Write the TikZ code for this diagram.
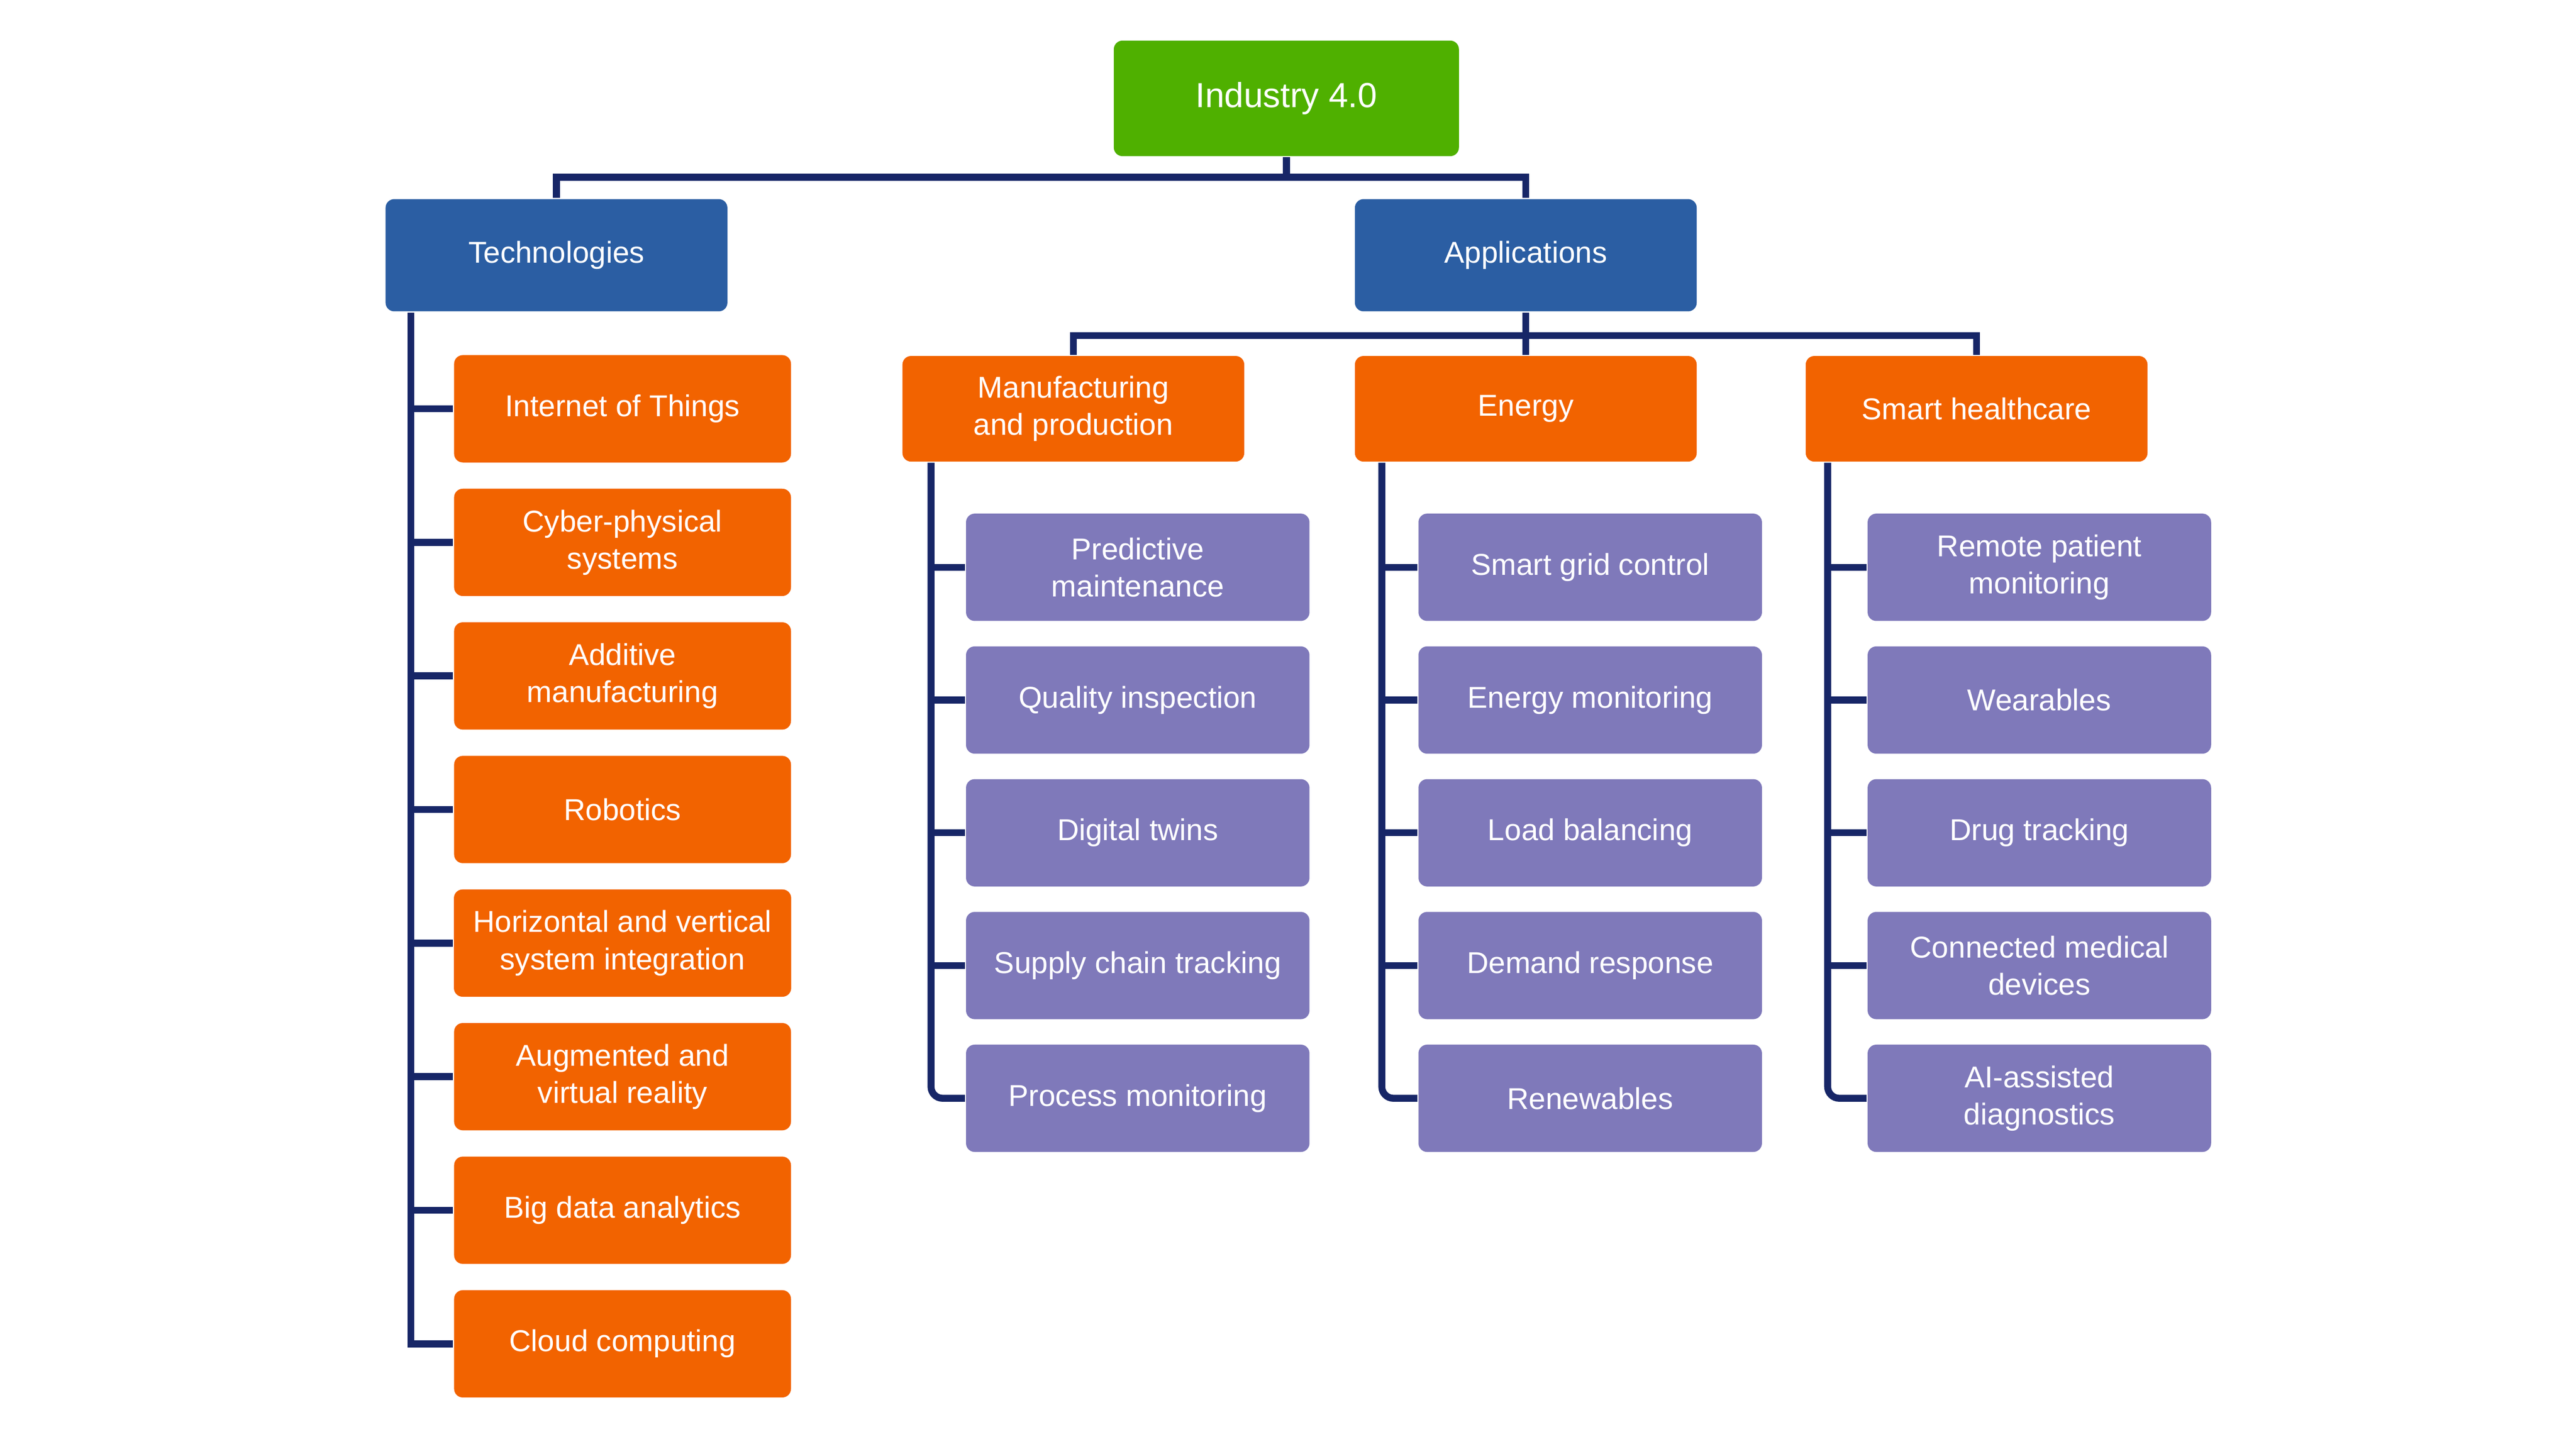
\documentclass[tikz,border=0pt]{standalone}
\usepackage{fontspec}
\setmainfont{Liberation Sans}
\usepackage{tikz}
\usetikzlibrary{positioning}
\usepackage{xcolor}
\definecolor{imgreen}{RGB}{79,176,0}
\definecolor{imblue}{RGB}{43,94,163}
\definecolor{imorange}{RGB}{242,99,0}
\definecolor{impurple}{RGB}{127,121,186}
\definecolor{imnavy}{RGB}{23,38,103}
\tikzstyle{link} = [line width=1.2pt, color=imnavy]
\tikzstyle{rootbox} = [rectangle, rounded corners=1.5pt, minimum width=2.09cm, minimum height=0.70cm, text centered, align=center, fill=imgreen, text=white, font=\fontsize{6}{7.2}\selectfont]
\tikzstyle{branch} = [rectangle, rounded corners=1.5pt, minimum width=2.07cm, minimum height=0.68cm, text centered, align=center, fill=imblue, text=white, font=\fontsize{5.2}{6.4}\selectfont]
\tikzstyle{techitem} = [rectangle, rounded corners=1.5pt, minimum width=2.04cm, minimum height=0.65cm, text centered, align=center, fill=imorange, text=white, font=\fontsize{5.2}{6.4}\selectfont]
\tikzstyle{field} = [techitem, minimum width=2.07cm, minimum height=0.64cm]
\tikzstyle{usecase} = [techitem, minimum width=2.08cm, fill=impurple]

\begin{document}
\begin{tikzpicture}
\useasboundingbox (0,0) rectangle (15.6,8.776);
% Root and the two main branches
\node[rootbox] (root) at (7.79,8.18) {Industry 4.0};
\node[branch] (tech) at (3.37,7.23) {Technologies};
\node[branch] (appl) at (9.24,7.23) {Applications};
\draw[link] (root.south) -- ++(0,-0.12) -| (tech.north);
\draw[link] (root.south) -- ++(0,-0.12) -| (appl.north);

% Technologies
\node[techitem] (iot) at (3.77,6.30) {Internet of Things};
\node[techitem, below=0.145cm of iot] (cps) {Cyber-physical\\systems};
\node[techitem, below=0.145cm of cps] (additive) {Additive\\manufacturing};
\node[techitem, below=0.145cm of additive] (robots) {Robotics};
\node[techitem, below=0.145cm of robots] (integration) {Horizontal and vertical\\system integration};
\node[techitem, below=0.145cm of integration] (arvr) {Augmented and\\virtual reality};
\node[techitem, below=0.145cm of arvr] (bigdata) {Big data analytics};
\node[techitem, below=0.145cm of bigdata] (cloud) {Cloud computing};

\coordinate (techtrunk) at ([xshift=0.16cm]tech.south west);
\draw[link] (techtrunk) |- (cloud.west);
\draw[link] (techtrunk |- iot.west) -- (iot.west)
  (techtrunk |- cps.west) -- (cps.west)
  (techtrunk |- additive.west) -- (additive.west)
  (techtrunk |- robots.west) -- (robots.west)
  (techtrunk |- integration.west) -- (integration.west)
  (techtrunk |- arvr.west) -- (arvr.west)
  (techtrunk |- bigdata.west) -- (bigdata.west);

% Application fields
\node[field] (manuf) at (6.50,6.30) {Manufacturing\\and production};
\node[field] (energy) at (9.24,6.30) {Energy};
\node[field] (health) at (11.97,6.30) {Smart healthcare};
\draw[link] (appl.south) -- ++(0,-0.14) -| (manuf.north);
\draw[link] (appl.south) -- ++(0,-0.14) -| (energy.north);
\draw[link] (appl.south) -- ++(0,-0.14) -| (health.north);

% Manufacturing use cases
\node[usecase] (predictive) at (6.89,5.34) {Predictive\\maintenance};
\node[usecase, below=0.14cm of predictive] (quality) {Quality inspection};
\node[usecase, below=0.14cm of quality] (twins) {Digital twins};
\node[usecase, below=0.14cm of twins] (supply) {Supply chain tracking};
\node[usecase, below=0.14cm of supply] (process) {Process monitoring};

\coordinate (mtrunk) at ([xshift=0.18cm]manuf.south west);
\draw[link, rounded corners=2pt] (mtrunk) |- (process.west);
\draw[link] (mtrunk |- predictive.west) -- (predictive.west)
  (mtrunk |- quality.west) -- (quality.west)
  (mtrunk |- twins.west) -- (twins.west)
  (mtrunk |- supply.west) -- (supply.west);

% Energy use cases
\node[usecase] (grid) at (9.63,5.34) {Smart grid control};
\node[usecase, below=0.14cm of grid] (emon) {Energy monitoring};
\node[usecase, below=0.14cm of emon] (load) {Load balancing};
\node[usecase, below=0.14cm of load] (demand) {Demand response};
\node[usecase, below=0.14cm of demand] (renew) {Renewables};

\coordinate (etrunk) at ([xshift=0.17cm]energy.south west);
\draw[link, rounded corners=2pt] (etrunk) |- (renew.west);
\draw[link] (etrunk |- grid.west) -- (grid.west)
  (etrunk |- emon.west) -- (emon.west)
  (etrunk |- load.west) -- (load.west)
  (etrunk |- demand.west) -- (demand.west);

% Healthcare use cases
\node[usecase] (remote) at (12.35,5.34) {Remote patient\\monitoring};
\node[usecase, below=0.14cm of remote] (wear) {Wearables};
\node[usecase, below=0.14cm of wear] (drug) {Drug tracking};
\node[usecase, below=0.14cm of drug] (devices) {Connected medical\\devices};
\node[usecase, below=0.14cm of devices] (diag) {AI-assisted\\diagnostics};

\coordinate (htrunk) at ([xshift=0.14cm]health.south west);
\draw[link, rounded corners=2pt] (htrunk) |- (diag.west);
\draw[link] (htrunk |- remote.west) -- (remote.west)
  (htrunk |- wear.west) -- (wear.west)
  (htrunk |- drug.west) -- (drug.west)
  (htrunk |- devices.west) -- (devices.west);
\end{tikzpicture}
\end{document}
